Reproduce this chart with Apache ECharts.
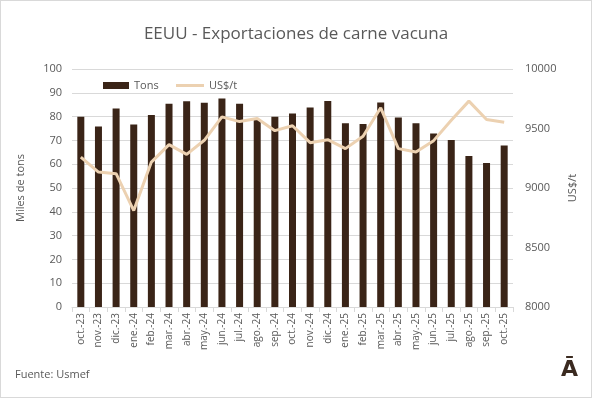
<!DOCTYPE html>
<html>
<head>
<meta charset="utf-8">
<script src="https://cdn.jsdelivr.net/npm/echarts@6/dist/echarts.min.js"></script>
<style>
html, body { margin: 0; padding: 0; background: #fff; }
#chart { width: 590px; height: 396px; border: 1px solid #d9d9d9; }
</style>
</head>
<body>
<div id="chart"></div>
<script>
var meses = ['oct.-23', 'nov.-23', 'dic.-23', 'ene.-24', 'feb.-24', 'mar.-24', 'abr.-24', 'may.-24', 'jun.-24',
	'jul.-24', 'ago.-24', 'sep.-24', 'oct.-24', 'nov.-24', 'dic.-24', 'ene.-25', 'feb.-25', 'mar.-25', 'abr.-25',
	'may.-25', 'jun.-25', 'jul.-25', 'ago.-25', 'sep.-25', 'oct.-25'];
// miles de toneladas
var tons = [79.9, 75.8, 83.4, 76.7, 80.7, 85.4, 86.4, 85.8, 87.6, 85.4, 78.8, 79.9, 81.3,
	83.8, 86.6, 77.2, 76.9, 85.9, 79.6, 77.2, 72.9, 70.2, 63.4, 60.5, 67.9];
// precio promedio US$/t
var precio = [9260, 9134, 9120, 8810, 9218, 9364, 9283, 9401, 9598, 9558, 9584, 9482, 9523,
	9381, 9406, 9331, 9435, 9674, 9331, 9302, 9398, 9570, 9730, 9575, 9553];

var myChart = echarts.init(document.getElementById('chart'));
var gris = '#595959';
var option = {
	animation: false,
	textStyle: { fontFamily: 'Open Sans' },
	title: {
		text: 'EEUU - Exportaciones de carne vacuna',
		left: 'center',
		top: 20,
		textStyle: { fontSize: 17, fontWeight: 'normal', color: gris, fontFamily: 'Open Sans' }
	},
	// dos leyendas para que el icono de la línea sea fino
	legend: [{
		data: ['Tons'],
		left: 97,
		top: 74,
		icon: 'rect',
		itemWidth: 26,
		itemHeight: 7,
		textStyle: { fontSize: 11, color: gris }
	}, {
		data: ['US$/t'],
		left: 170,
		top: 74,
		icon: 'rect',
		itemWidth: 28,
		itemHeight: 3,
		textStyle: { fontSize: 11, color: gris }
	}],
	grid: { left: 71, right: 78, top: 68, bottom: 90 },
	xAxis: [{
		type: 'category',
		data: meses,
		axisLine: { lineStyle: { color: '#d9d9d9' } },
		axisTick: { show: true, lineStyle: { color: '#d9d9d9' } },
		axisLabel: { rotate: 90, fontSize: 10, color: gris, margin: 6 }
	}],
	yAxis: [{
		type: 'value',
		min: 0,
		max: 100,
		interval: 10,
		name: 'Miles de tons',
		nameLocation: 'middle',
		nameGap: 46,
		nameTextStyle: { fontSize: 11, color: gris },
		axisLabel: { fontSize: 11, color: gris, margin: 10 },
		splitLine: { lineStyle: { color: '#d9d9d9' } }
	}, {
		type: 'value',
		min: 8000,
		max: 10000,
		interval: 500,
		name: 'US$/t',
		nameLocation: 'middle',
		nameGap: 45,
		nameTextStyle: { fontSize: 11, color: gris },
		axisLabel: { fontSize: 11, color: gris, margin: 12, formatter: function(v) { return String(v); } },
		splitLine: { show: false }
	}],
	series: [{
		name: 'Tons',
		type: 'bar',
		data: tons,
		barWidth: 7,
		itemStyle: { color: '#3a2417' }
	}, {
		name: 'US$/t',
		type: 'line',
		yAxisIndex: 1,
		data: precio,
		symbol: 'none',
		lineStyle: { color: '#ecd1b1', width: 3 },
		itemStyle: { color: '#ecd1b1' }
	}],
	graphic: [{
		type: 'text',
		left: 14,
		top: 368,
		style: { text: 'Fuente: Usmef', fontSize: 11, fill: gris, fontFamily: 'Open Sans' }
	}, {
		type: 'text',
		left: 560,
		top: 358,
		style: { text: 'Ā', fontSize: 22, fontWeight: 'bold', fill: '#3a2a20', fontFamily: 'DejaVu Sans' }
	}]
};
myChart.setOption(option);
</script>
</body>
</html>
